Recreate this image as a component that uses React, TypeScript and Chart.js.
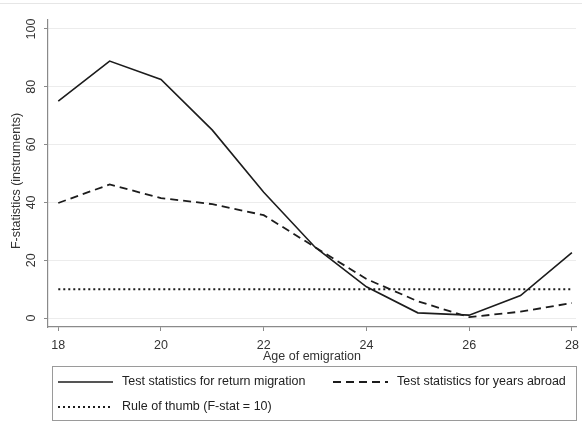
import { useEffect, useRef } from "react";
import { Chart, registerables } from "chart.js";

Chart.register(...registerables);

// Age of emigration (x) and first-stage F-statistics (y)
const ages = [18, 19, 20, 21, 22, 23, 24, 25, 26, 27, 28];
const returnMigration = [75, 88.9, 82.5, 65, 43.5, 24.5, 10.8, 1.8, 1, 7.8, 22.6];
const yearsAbroad = [39.8, 46.2, 41.5, 39.4, 35.6, 24.5, 13.5, 5.8, 0.3, 2.2, 5.2];
const ruleOfThumb = 10;

const xTicks = [18, 20, 22, 24, 26, 28];
const yTicks = [0, 20, 40, 60, 80, 100];

const seriesLabels = [
  "Test statistics for return migration",
  "Test statistics for years abroad",
  "Rule of thumb (F-stat = 10)",
];

const FONT = "'Liberation Sans', Arial, sans-serif";
const INK = "#1c1c1c";
const AXIS = "#8a8a8a";

const overlayPlugin = {
  id: "overlay",
  beforeDraw(chart: any) {
    const { ctx, width, height } = chart;
    ctx.save();
    ctx.fillStyle = "#ffffff";
    ctx.fillRect(0, 0, width, height);
    ctx.strokeStyle = "#e6e6e6";
    ctx.lineWidth = 1;
    ctx.beginPath();
    ctx.moveTo(0, 3.5);
    ctx.lineTo(width, 3.5);
    ctx.stroke();
    ctx.restore();
  },
  afterDraw(chart: any) {
    const { ctx, chartArea } = chart;
    const yScale = chart.scales.y;
    ctx.save();

    // rotated y tick labels
    ctx.fillStyle = "#333";
    ctx.font = `12.5px ${FONT}`;
    ctx.textAlign = "center";
    ctx.textBaseline = "middle";
    for (const t of yScale.ticks) {
      const py = yScale.getPixelForValue(t.value);
      ctx.save();
      ctx.translate(chartArea.left - 16, py);
      ctx.rotate(-Math.PI / 2);
      ctx.fillText(String(t.value), 0, 0);
      ctx.restore();
    }

    // y axis title
    ctx.save();
    ctx.translate(17, 181);
    ctx.rotate(-Math.PI / 2);
    ctx.fillText("F-statistics (instruments)", 0, 0);
    ctx.restore();

    // x axis title
    ctx.fillText("Age of emigration", (chartArea.left + chartArea.right) / 2, 357);

    // legend
    const bx = 52, by = 366, bw = 524, bh = 54;
    ctx.strokeStyle = "#9a9a9a";
    ctx.lineWidth = 1;
    ctx.strokeRect(bx + 0.5, by + 0.5, bw, bh);

    const items = [
      { x: 58, y: 382, dash: [] as number[], w: 1.6, text: seriesLabels[0] },
      { x: 333, y: 382, dash: [8, 5], w: 1.8, text: seriesLabels[1] },
      { x: 58, y: 407, dash: [2, 3], w: 2, text: seriesLabels[2] },
    ];
    ctx.font = `12.5px ${FONT}`;
    ctx.textAlign = "left";
    for (const it of items) {
      ctx.strokeStyle = INK;
      ctx.lineWidth = it.w;
      ctx.setLineDash(it.dash);
      ctx.beginPath();
      ctx.moveTo(it.x, it.y);
      ctx.lineTo(it.x + 55, it.y);
      ctx.stroke();
      ctx.setLineDash([]);
      ctx.fillStyle = "#222";
      ctx.fillText(it.text, it.x + 64, it.y);
    }
    ctx.restore();
  },
};

export default function App() {
  const canvasRef = useRef<HTMLCanvasElement | null>(null);

  useEffect(() => {
    document.body.style.margin = "0";
    const canvas = canvasRef.current;
    if (!canvas) return;

    const toPoints = (vals: number[]) => ages.map((a, i) => ({ x: a, y: vals[i] }));

    const chart = new Chart(canvas, {
      type: "line",
      data: {
        datasets: [
          {
            label: seriesLabels[0],
            data: toPoints(returnMigration),
            borderColor: INK,
            borderWidth: 1.6,
            pointRadius: 0,
            tension: 0,
          },
          {
            label: seriesLabels[1],
            data: toPoints(yearsAbroad),
            borderColor: INK,
            borderWidth: 1.8,
            borderDash: [8, 5],
            pointRadius: 0,
            tension: 0,
          },
          {
            label: seriesLabels[2],
            data: toPoints(ages.map(() => ruleOfThumb)),
            borderColor: INK,
            borderWidth: 2,
            borderDash: [2, 3],
            pointRadius: 0,
            tension: 0,
          },
        ],
      },
      options: {
        animation: false,
        responsive: false,
        devicePixelRatio: 1,
        layout: { padding: { left: 48, top: 20, right: 6, bottom: 69 } },
        plugins: { legend: { display: false }, tooltip: { enabled: false } },
        scales: {
          x: {
            type: "linear",
            min: 17.8,
            max: 28.08,
            afterBuildTicks: (s: any) => {
              s.ticks = xTicks.map((v) => ({ value: v }));
            },
            afterFit: (s: any) => {
              s.height = 28;
              s.paddingLeft = 0;
              s.paddingRight = 0;
            },
            grid: {
              drawOnChartArea: false,
              drawTicks: true,
              tickLength: 4,
              tickColor: AXIS,
            },
            border: { color: AXIS, width: 1.2 },
            ticks: {
              color: "#333",
              font: { family: FONT, size: 12.5 },
              padding: 7,
              maxRotation: 0,
              minRotation: 0,
              autoSkip: false,
            },
          },
          y: {
            type: "linear",
            min: -3.1,
            max: 103.1,
            afterBuildTicks: (s: any) => {
              s.ticks = yTicks.map((v) => ({ value: v }));
            },
            afterFit: (s: any) => {
              s.width = 0;
              s.paddingTop = 0;
              s.paddingBottom = 0;
            },
            grid: {
              color: "#ececec",
              lineWidth: 1,
              drawTicks: true,
              tickLength: 4,
              tickColor: AXIS,
            },
            border: { color: AXIS, width: 1.2 },
            ticks: { display: false },
          },
        },
      },
      plugins: [overlayPlugin],
    });

    return () => chart.destroy();
  }, []);

  return <canvas ref={canvasRef} width={582} height={424} style={{ display: "block" }} />;
}
